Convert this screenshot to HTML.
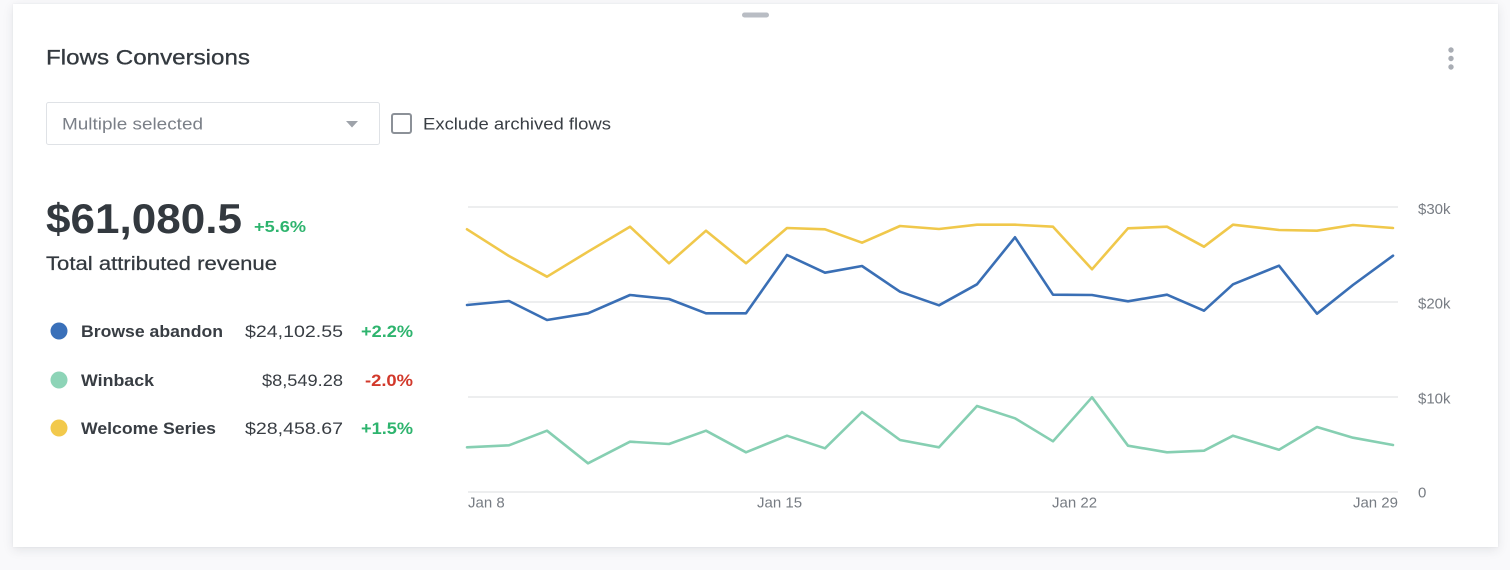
<!DOCTYPE html>
<html>
<head>
<meta charset="utf-8">
<style>
  html,body{margin:0;padding:0;}
  body{width:1510px;height:570px;background:#f9f9fb;position:relative;overflow:hidden;font-family:"Liberation Sans",sans-serif;}
  .card{position:absolute;left:13px;top:4px;width:1485px;height:543px;background:#fff;box-shadow:0 3px 10px rgba(40,45,60,0.10),0 0 2px rgba(40,45,60,0.06);}
  svg{position:absolute;left:0;top:0;}
</style>
</head>
<body>
<div class="card"></div>
<svg width="1510" height="570" viewBox="0 0 1510 570" xmlns="http://www.w3.org/2000/svg" font-family="Liberation Sans, sans-serif">
  <!-- drag handle -->
  <rect x="742" y="12.5" width="27" height="5" rx="2.5" fill="#b9bdc4"/>
  <!-- menu dots -->
  <circle cx="1451" cy="50" r="2.7" fill="#a9adb4"/>
  <circle cx="1451" cy="58.5" r="2.7" fill="#a9adb4"/>
  <circle cx="1451" cy="67" r="2.7" fill="#a9adb4"/>

  <!-- title -->
  <text x="46" y="64.5" font-size="21" fill="#33393f" stroke="#33393f" stroke-width="0.3" textLength="204" lengthAdjust="spacingAndGlyphs">Flows Conversions</text>

  <!-- dropdown -->
  <rect x="46.5" y="102.5" width="333" height="42" rx="2" fill="#fff" stroke="#dfe2e6" stroke-width="1"/>
  <text x="62" y="129.5" font-size="17" fill="#7a7f87" textLength="141" lengthAdjust="spacingAndGlyphs">Multiple selected</text>
  <polygon points="346,121 358,121 352,127.5" fill="#9ea3aa"/>

  <!-- checkbox -->
  <rect x="392" y="114" width="19" height="19" rx="2" fill="#fff" stroke="#8c9198" stroke-width="2"/>
  <text x="423" y="129.5" font-size="17" fill="#393e44" textLength="188" lengthAdjust="spacingAndGlyphs">Exclude archived flows</text>

  <!-- big number -->
  <text x="46" y="233" font-size="42" font-weight="bold" fill="#33393f" textLength="196" lengthAdjust="spacingAndGlyphs">$61,080.5</text>
  <text x="254" y="232" font-size="16" font-weight="bold" fill="#2eb46e" textLength="52" lengthAdjust="spacingAndGlyphs">+5.6%</text>
  <text x="46" y="270" font-size="19.5" fill="#33393f" stroke="#33393f" stroke-width="0.25" textLength="231" lengthAdjust="spacingAndGlyphs">Total attributed revenue</text>

  <!-- legend -->
  <circle cx="59" cy="331" r="8.5" fill="#3a70b9"/>
  <text x="81" y="337" font-size="17" font-weight="bold" fill="#383d43" textLength="142" lengthAdjust="spacingAndGlyphs">Browse abandon</text>
  <text x="245" y="337" font-size="17" fill="#383d43" textLength="98" lengthAdjust="spacingAndGlyphs">$24,102.55</text>
  <text x="361" y="337" font-size="17" font-weight="bold" fill="#2eb46e" textLength="52" lengthAdjust="spacingAndGlyphs">+2.2%</text>

  <circle cx="59" cy="380" r="8.5" fill="#8dd4b7"/>
  <text x="81" y="386" font-size="17" font-weight="bold" fill="#383d43" textLength="73" lengthAdjust="spacingAndGlyphs">Winback</text>
  <text x="262" y="386" font-size="17" fill="#383d43" textLength="81" lengthAdjust="spacingAndGlyphs">$8,549.28</text>
  <text x="365" y="386" font-size="17" font-weight="bold" fill="#d2392b" textLength="48" lengthAdjust="spacingAndGlyphs">-2.0%</text>

  <circle cx="59" cy="428" r="8.5" fill="#f2c94c"/>
  <text x="81" y="434" font-size="17" font-weight="bold" fill="#383d43" textLength="135" lengthAdjust="spacingAndGlyphs">Welcome Series</text>
  <text x="245" y="434" font-size="17" fill="#383d43" textLength="98" lengthAdjust="spacingAndGlyphs">$28,458.67</text>
  <text x="361" y="434" font-size="17" font-weight="bold" fill="#2eb46e" textLength="52" lengthAdjust="spacingAndGlyphs">+1.5%</text>

  <!-- grid -->
  <g stroke="#e7e8ea" stroke-width="1.6">
    <line x1="468" y1="207" x2="1398" y2="207"/>
    <line x1="468" y1="302" x2="1398" y2="302"/>
    <line x1="468" y1="397" x2="1398" y2="397"/>
    <line x1="468" y1="492" x2="1398" y2="492"/>
  </g>

  <!-- y labels -->
  <g font-size="15" fill="#777c83">
    <text x="1418" y="214">$30k</text>
    <text x="1418" y="308.5">$20k</text>
    <text x="1418" y="403.5">$10k</text>
    <text x="1418" y="497.5">0</text>
  </g>
  <!-- x labels -->
  <g font-size="15" fill="#777c83">
    <text x="468" y="507.5">Jan 8</text>
    <text x="757" y="507.5">Jan 15</text>
    <text x="1052" y="507.5">Jan 22</text>
    <text x="1398" y="507.5" text-anchor="end">Jan 29</text>
  </g>

  <!-- series -->
  <g fill="none" stroke-width="2.6" stroke-linejoin="round" stroke-linecap="round">
    <polyline stroke="#f0c84b" points="467,229.3 509,256 547,276.7 588,251.7 630,226.7 669,263.3 706,230.7 746,263.3 787,228 825,229.3 862,242.7 900,226 939,229 977,224.7 1015,224.7 1053,226.7 1092,269.3 1128,228.3 1167,226.7 1204,246.7 1233,224.7 1279,230 1317,230.7 1353,225 1393,228"/>
    <polyline stroke="#3a6fb5" points="467,305 509,301 547,320 588,313.3 630,295 669,299 706,313.3 746,313.3 787,255 825,272.7 862,266 900,291.7 939,305.3 977,284.3 1015,237.3 1053,294.7 1092,295 1128,301.3 1167,294.7 1204,310.7 1233,284.3 1279,265.7 1317,313.7 1353,285 1393,255.7"/>
    <polyline stroke="#86cfb2" points="467,447.3 509,445.3 547,430.7 588,463.3 630,441.7 669,444 706,430.7 746,452.3 787,435.7 825,448.3 862,412 900,440 939,447.3 977,406 1015,418.3 1053,441.3 1092,397.3 1128,445.7 1167,452.3 1204,450.7 1233,435.7 1279,449.7 1317,427 1353,437.7 1393,445"/>
  </g>
</svg>
</body>
</html>
